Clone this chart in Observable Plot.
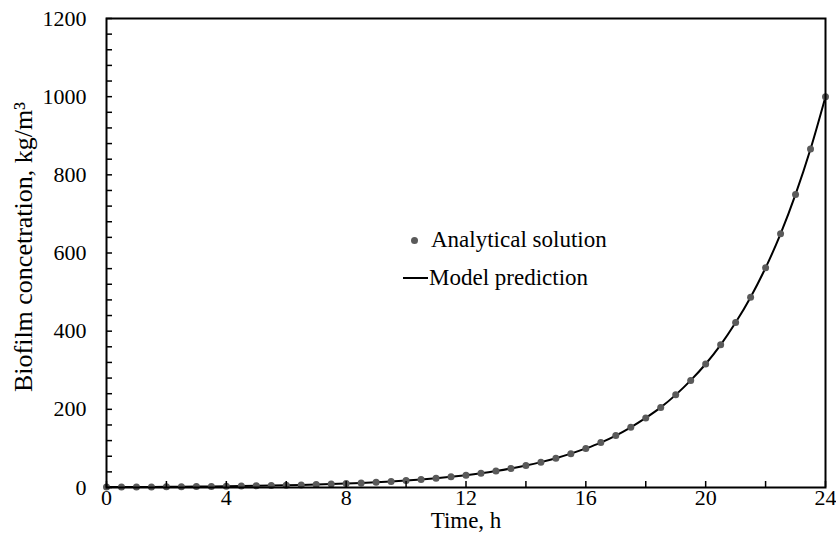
<!DOCTYPE html>
<html><head><meta charset="utf-8">
<script src="https://cdn.jsdelivr.net/npm/d3@7"></script>
<script src="https://cdn.jsdelivr.net/npm/@observablehq/plot@0.6"></script>
<style>
body{margin:0;background:#fff;}
#wrap{position:relative;width:836px;height:546px;font-family:"Liberation Serif","Times New Roman",serif;}
.leg{position:absolute;font-size:23px;line-height:23px;color:#000;white-space:nowrap;}
.legdot{position:absolute;width:7px;height:7px;border-radius:50%;background:#5a5a5a;}
.legline{position:absolute;height:2px;background:#000;}
</style></head><body><div id="wrap"></div>
<script>
const timeH = [0,0.5,1,1.5,2,2.5,3,3.5,4,4.5,5,5.5,6,6.5,7,7.5,8,8.5,9,9.5,10,10.5,11,11.5,12,12.5,13,13.5,14,14.5,15,15.5,16,16.5,17,17.5,18,18.5,19,19.5,20,20.5,21,21.5,22,22.5,23,23.5,24];
const analytical = [1.0,1.15,1.33,1.54,1.78,2.05,2.37,2.74,3.16,3.65,4.22,4.87,5.62,6.49,7.5,8.66,10.0,11.5,13.3,15.4,17.8,20.5,23.7,27.4,31.6,36.5,42.2,48.7,56.2,64.9,75.0,86.6,100,115,133,154,178,205,237,274,316,365,422,487,562,649,750,866,1000];
const model = [1.0,1.15,1.33,1.54,1.78,2.05,2.37,2.74,3.16,3.65,4.22,4.87,5.62,6.49,7.5,8.66,10.0,11.5,13.3,15.4,17.8,20.5,23.7,27.4,31.6,36.5,42.2,48.7,56.2,64.9,75.0,86.6,100,115,133,154,178,205,237,274,316,365,422,487,562,649,750,866,1000];
const xTickLabels = [0,4,8,12,16,20,24];
const xMinorTicks = [0,2,4,6,8,10,12,14,16,18,20,22,24];
const yTickLabels = [0,200,400,600,800,1000,1200];
const yMinorTicks = [0,40,80,120,160,200,240,280,320,360,400,440,480,520,560,600,640,680,720,760,800,840,880,920,960,1000,1040,1080,1120,1160,1200];
const xTitle = "Time, h";
const yTitle = "Biofilm concetration, kg/m³";
const legendLabels = ["Analytical solution", "Model prediction"];

const rows = timeH.map((t, i) => ({t, a: analytical[i], m: model[i]}));

const chart = Plot.plot({
  width: 836,
  height: 546,
  marginLeft: 106,
  marginRight: 11,
  marginTop: 18,
  marginBottom: 59,
  style: {fontFamily: '"Liberation Serif","Times New Roman",serif', fontSize: "22px", color: "black", background: "white"},
  x: {domain: [0, 24]},
  y: {domain: [0, 1200]},
  marks: [
    Plot.line(rows, {x: "t", y: "m", stroke: "black", strokeWidth: 2, curve: "monotone-x"}),
    Plot.dot(rows, {x: "t", y: "a", r: 3.5, fill: "#5a5a5a", stroke: "none"}),
    Plot.axisY(yMinorTicks, {tickSize: -6, fill: "none", stroke: "black", strokeWidth: 1.5, label: null}),
    Plot.axisY(yTickLabels, {tickSize: 0, tickPadding: 20, fontSize: 22, label: null, tickFormat: d => String(d)}),
    Plot.axisX(xMinorTicks, {tickSize: -6, fill: "none", stroke: "black", strokeWidth: 1.5, label: null}),
    Plot.axisX(xTickLabels, {tickSize: 0, tickPadding: 2, fontSize: 22, label: null, tickFormat: d => String(d)}),
    Plot.frame({stroke: "black", strokeWidth: 2}),
    Plot.text([xTitle], {text: d => d, frameAnchor: "bottom", lineAnchor: "top", dy: 24, fontSize: 23, fill: "black"}),
    Plot.text([yTitle], {text: d => d, frameAnchor: "left", textAnchor: "middle", dx: -83, dy: -6, rotate: -90, fontSize: 26, fill: "black"})
  ]
});

const wrap = document.getElementById("wrap");
wrap.appendChild(chart);

const d1 = document.createElement("div"); d1.className = "legdot";
d1.style.left = "411px"; d1.style.top = "237px"; wrap.appendChild(d1);
const t1 = document.createElement("div"); t1.className = "leg";
t1.style.left = "431px"; t1.style.top = "228px"; t1.textContent = legendLabels[0]; wrap.appendChild(t1);
const l2 = document.createElement("div"); l2.className = "legline";
l2.style.left = "403px"; l2.style.top = "277px"; l2.style.width = "25px"; wrap.appendChild(l2);
const t2 = document.createElement("div"); t2.className = "leg";
t2.style.left = "429px"; t2.style.top = "266px"; t2.textContent = legendLabels[1]; wrap.appendChild(t2);
</script>
</body></html>
